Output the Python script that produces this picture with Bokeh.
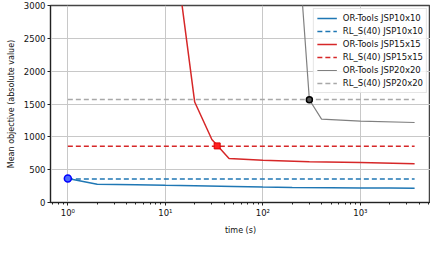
from bokeh.plotting import figure
from bokeh.models import Range1d, Legend, LegendItem, FixedTicker
from bokeh.embed import file_html
from bokeh.resources import INLINE

# ---- data ----
or10_t = [1, 2, 5, 10, 20, 50, 100, 200, 500, 1000, 2000, 3600]
or10_v = [365, 278, 270, 262, 255, 245, 236, 230, 225, 222, 219, 216]
rl10_v = 358

or15_t = [10, 20, 30, 45, 100, 300, 1000, 3600]
or15_v = [4950, 1530, 960, 670, 642, 622, 608, 592]
rl15_v = 858

or20_t = [200, 300, 400, 1000, 3600]
or20_v = [5200, 1565, 1270, 1240, 1218]
rl20_v = 1568

rl_t = [1, 3600]

marker10 = (1, 365)
marker15 = (34, 862)
marker20 = (300, 1565)

y_ticks = [0, 500, 1000, 1500, 2000, 2500, 3000]
x_ticks = [1, 10, 100, 1000]
x_tick_labels = {1: "10⁰", 10: "10¹", 100: "10²", 1000: "10³"}

FONT = "DejaVu Sans"
BLUE = "#1f77b4"
RED = "#d62728"
GRAY = "#808080"
LGRAY = "#a8a8a8"

p = figure(width=430, height=237, x_axis_type="log",
           x_range=Range1d(0.664, 5240), y_range=Range1d(0, 3000),
           output_backend="svg", toolbar_location=None,
           min_border_left=50, min_border_right=0, min_border_top=5,
           min_border_bottom=34)

p.background_fill_color = "white"
p.outline_line_color = "#444444"
p.outline_line_width = 1.5

# grids
p.xgrid.ticker = FixedTicker(ticks=x_ticks)
p.ygrid.ticker = FixedTicker(ticks=y_ticks)
p.xgrid.grid_line_color = "#c8c8c8"
p.ygrid.grid_line_color = "#c8c8c8"
p.xgrid.grid_line_width = 1
p.ygrid.grid_line_width = 1

# axes
p.yaxis.ticker = FixedTicker(ticks=y_ticks)
p.xaxis.major_label_overrides = x_tick_labels
for ax in (p.xaxis[0], p.yaxis[0]):
    ax.axis_line_color = "#222222"
    ax.major_tick_line_color = "#222222"
    ax.minor_tick_line_color = "#222222"
    ax.major_tick_in = 0
    ax.major_tick_out = 3
    ax.minor_tick_in = 0
    ax.minor_tick_out = 2
    ax.major_label_text_font = FONT
    ax.major_label_text_font_size = "8.5px"
    ax.major_label_text_color = "#111111"
    ax.axis_label_text_font = FONT
    ax.axis_label_text_font_size = "8px"
    ax.axis_label_text_font_style = "normal"
    ax.axis_label_text_color = "#111111"
    ax.major_label_standoff = 2
    ax.axis_label_standoff = 5
p.yaxis.minor_tick_line_color = None
p.xaxis.axis_label = "time (s)"
p.yaxis.axis_label = "Mean objective (absolute value)"

# lines
l1 = p.line(or10_t, or10_v, line_color=BLUE, line_width=1.5)
l2 = p.line(rl_t, [rl10_v, rl10_v], line_color=BLUE, line_width=1.5, line_dash="5 3")
l3 = p.line(or15_t, or15_v, line_color=RED, line_width=1.5)
l4 = p.line(rl_t, [rl15_v, rl15_v], line_color=RED, line_width=1.5, line_dash="5 3")
l5 = p.line(or20_t, or20_v, line_color=GRAY, line_width=1.2)
l6 = p.line(rl_t, [rl20_v, rl20_v], line_color=LGRAY, line_width=1.5, line_dash="5 3")

# intersection markers
p.scatter([marker10[0]], [marker10[1]], marker="circle", size=7,
          fill_color="#4d6bff", line_color="#0000ff", line_width=1.5)
p.scatter([marker15[0]], [marker15[1]], marker="square", size=6,
          fill_color="#ff2020", line_color="#e00000", line_width=1)
p.scatter([marker20[0]], [marker20[1]], marker="circle", size=6,
          fill_color="#555555", line_color="#000000", line_width=1.5)

legend = Legend(items=[
    LegendItem(label="OR-Tools JSP10x10", renderers=[l1]),
    LegendItem(label="RL_S(40) JSP10x10", renderers=[l2]),
    LegendItem(label="OR-Tools JSP15x15", renderers=[l3]),
    LegendItem(label="RL_S(40) JSP15x15", renderers=[l4]),
    LegendItem(label="OR-Tools JSP20x20", renderers=[l5]),
    LegendItem(label="RL_S(40) JSP20x20", renderers=[l6]),
], location="top_right")
legend.label_text_font = FONT
legend.label_text_font_size = "8.5px"
legend.label_text_color = "#111111"
legend.glyph_width = 20
legend.glyph_height = 12
legend.label_height = 12
legend.label_standoff = 6
legend.spacing = 1
legend.padding = 3
legend.margin = 3
legend.border_line_color = "#cccccc"
legend.border_line_width = 1
legend.background_fill_alpha = 0.85
p.add_layout(legend)

open("out.html", "w").write(file_html(p, INLINE))
